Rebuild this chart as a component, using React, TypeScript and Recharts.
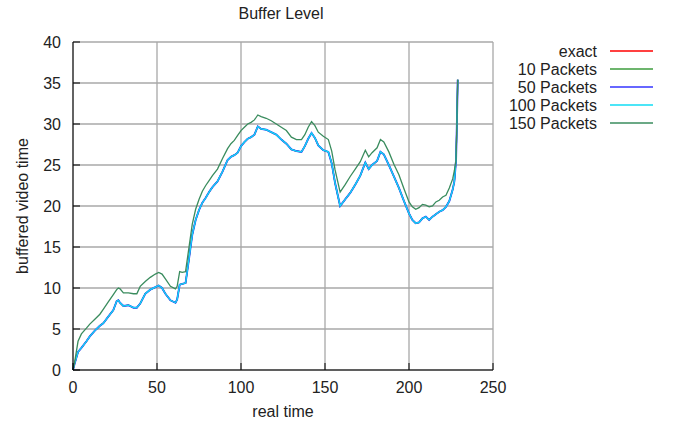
import { LineChart, Line, XAxis, YAxis, CartesianGrid, Label } from 'recharts';

// time samples (real time) shared by every series
const times = [
  0, 1, 3, 5, 8, 10, 13, 16, 18, 21, 24, 26, 27, 28, 30, 33, 36, 38, 40, 43, 46, 49, 51, 53, 55, 58, 61, 62, 63.5,
  65, 67, 69, 71, 73, 75, 77, 79, 81, 83, 86, 89, 92, 94, 96, 98, 100, 102, 104, 106, 108, 110, 112, 115, 118, 121,
  124, 127, 130, 133, 136, 138, 140, 142, 144, 146, 149, 152, 154, 156, 159, 162, 165, 168, 171, 174, 176, 178, 181,
  183, 185, 188, 191, 194, 197, 200, 202, 204, 206, 208, 210, 212, 214, 216, 218, 220, 222, 224, 226, 227, 228,
  228.5, 229,
];

const exact = [
  0, 0.8, 2.2, 2.7, 3.5, 4.1, 4.8, 5.4, 5.7, 6.5, 7.3, 8.4, 8.5, 8.2, 7.8, 7.9, 7.6, 7.6, 8.1, 9.3, 9.8, 10.1, 10.3,
  10.0, 9.3, 8.5, 8.2, 8.6, 10.4, 10.5, 10.6, 13.5, 16.5, 18.3, 19.5, 20.4, 21.0, 21.7, 22.3, 23.0, 24.2, 25.6, 26.0,
  26.2, 26.5, 27.3, 27.8, 28.2, 28.4, 28.7, 29.7, 29.4, 29.3, 29.0, 28.7, 28.1, 27.6, 26.9, 26.7, 26.6, 27.3, 28.2,
  28.9, 28.3, 27.4, 26.8, 26.6, 25.2, 22.8, 20.0, 20.8, 21.6, 22.6, 23.7, 25.3, 24.5, 25.0, 25.5, 26.6, 26.3, 25.0,
  23.6, 22.2, 20.6, 19.1, 18.3, 17.9, 18.0, 18.5, 18.7, 18.3, 18.7, 19.0, 19.3, 19.5, 19.9, 20.6, 22.0, 23.0, 25.6,
  30.0, 35.4,
];

// the 10/50/100 packet estimates sit on top of the exact curve
const packets10 = exact;
const packets50 = exact;
const packets100 = exact;

const packets150 = [
  0, 1.0, 3.5, 4.4, 5.1, 5.6, 6.2, 6.8, 7.4, 8.3, 9.2, 9.8, 10.0, 9.9, 9.4, 9.4, 9.3, 9.3, 10.2, 10.8, 11.3, 11.7,
  11.9, 11.7, 11.1, 10.2, 9.9, 10.2, 12.0, 11.9, 12.0, 14.9, 17.8, 19.6, 20.8, 21.8, 22.5, 23.1, 23.7, 24.5, 25.8,
  27.0, 27.6, 28.0, 28.6, 29.2, 29.6, 30.0, 30.2, 30.5, 31.1, 30.9, 30.7, 30.4, 30.0, 29.6, 29.2, 28.4, 28.1, 28.1,
  28.7, 29.6, 30.3, 29.8, 29.0, 28.5, 28.1, 26.7, 24.4, 21.7, 22.6, 23.6, 24.5, 25.4, 26.8, 26.0, 26.5, 27.1, 28.1,
  27.8, 26.6, 25.1, 23.8, 22.1, 20.5, 19.9, 19.6, 19.8, 20.2, 20.1, 19.9, 20.0, 20.5, 20.7, 21.1, 21.3, 22.2, 23.3,
  24.3, 25.6, 30.0, 35.4,
];

const xTicks = [0, 50, 100, 150, 200, 250];
const yTicks = [0, 5, 10, 15, 20, 25, 30, 35, 40];

const series = [
  { key: 'exact', name: 'exact', color: '#ff0000', width: 1.2 },
  { key: 'p10', name: '10 Packets', color: '#3c9c3c', width: 1.2 },
  { key: 'p50', name: '50 Packets', color: '#3535ff', width: 1.9 },
  { key: 'p100', name: '100 Packets', color: '#10dcf4', width: 1.3 },
  { key: 'p150', name: '150 Packets', color: '#3a8c5e', width: 1.3 },
];

const data = times.map((t, i) => ({
  t,
  exact: exact[i],
  p10: packets10[i],
  p50: packets50[i],
  p100: packets100[i],
  p150: packets150[i],
}));

const FONT = '"Liberation Sans", Arial, sans-serif';
const FS = 16;
const TICK = 7;

function BottomTick({ x, y, payload }: any) {
  return (
    <g>
      <line x1={x} x2={x} y1={y} y2={y - TICK} stroke="#000" />
      <text x={x} y={y + 23} textAnchor="middle" fontSize={FS} fontFamily={FONT} fill="#222">
        {payload.value}
      </text>
    </g>
  );
}

function TopTick({ x, y }: any) {
  return <line x1={x} x2={x} y1={y} y2={y + TICK} stroke="#000" />;
}

function LeftTick({ x, y, payload }: any) {
  return (
    <g>
      <line x1={x} x2={x + TICK} y1={y} y2={y} stroke="#000" />
      <text x={x - 12} y={y + 5.5} textAnchor="end" fontSize={FS} fontFamily={FONT} fill="#222">
        {payload.value}
      </text>
    </g>
  );
}

function RightTick({ x, y }: any) {
  return <line x1={x} x2={x - TICK} y1={y} y2={y} stroke="#000" />;
}

function Legend() {
  return (
    <svg width={676} height={430} style={{ position: 'absolute', left: 0, top: 0, pointerEvents: 'none' }}>
      {series.map((s, i) => (
        <g key={s.key}>
          <text x={597} y={56.5 + i * 18} textAnchor="end" fontSize={FS} fontFamily={FONT} fill="#222">
            {s.name}
          </text>
          <line x1={610} x2={653} y1={51 + i * 18} y2={51 + i * 18} stroke={s.color} strokeWidth={1.5} />
        </g>
      ))}
    </svg>
  );
}

export default function App() {
  return (
    <div style={{ position: 'absolute', left: 0, top: 0, width: 676, height: 430, background: '#fff' }}>
      <div
        style={{
          position: 'absolute',
          left: 181,
          top: 5,
          width: 200,
          textAlign: 'center',
          fontFamily: FONT,
          fontSize: FS,
          color: '#222',
        }}
      >
        Buffer Level
      </div>
      <LineChart width={676} height={430} data={data} margin={{ top: 42, right: 183, bottom: 10, left: 13 }}>
        <CartesianGrid stroke="#a8a8a8" strokeWidth={1.3} />
        <XAxis
          dataKey="t"
          type="number"
          domain={[0, 250]}
          ticks={xTicks}
          height={50}
          tickSize={0}
          tickMargin={0}
          tickLine={false}
          axisLine={{ stroke: '#000' }}
          tick={<BottomTick />}
        >
          <Label
            value="real time"
            position="insideBottom"
            offset={3}
            style={{ fontFamily: FONT, fontSize: FS, fill: '#222' }}
          />
        </XAxis>
        <XAxis
          xAxisId="top"
          orientation="top"
          type="number"
          domain={[0, 250]}
          ticks={xTicks}
          height={0}
          tickSize={0}
          tickMargin={0}
          tickLine={false}
          axisLine={{ stroke: '#000' }}
          tick={<TopTick />}
        />
        <YAxis
          type="number"
          domain={[0, 40]}
          ticks={yTicks}
          width={60}
          tickSize={0}
          tickMargin={0}
          tickLine={false}
          axisLine={{ stroke: '#000' }}
          tick={<LeftTick />}
        >
          <Label
            content={() => (
              <text
                x={22}
                y={206}
                transform="rotate(-90 22 206)"
                textAnchor="middle"
                dominantBaseline="central"
                fontFamily={FONT}
                fontSize={FS}
                fill="#222"
              >
                buffered video time
              </text>
            )}
          />
        </YAxis>
        <YAxis
          yAxisId="right"
          orientation="right"
          type="number"
          domain={[0, 40]}
          ticks={yTicks}
          width={0}
          tickSize={0}
          tickMargin={0}
          tickLine={false}
          axisLine={{ stroke: '#000' }}
          tick={<RightTick />}
        />
        {series.map((s) => (
          <Line
            key={s.key}
            dataKey={s.key}
            name={s.name}
            type="linear"
            stroke={s.color}
            strokeWidth={s.width}
            dot={false}
            isAnimationActive={false}
          />
        ))}
      </LineChart>
      <Legend />
    </div>
  );
}
